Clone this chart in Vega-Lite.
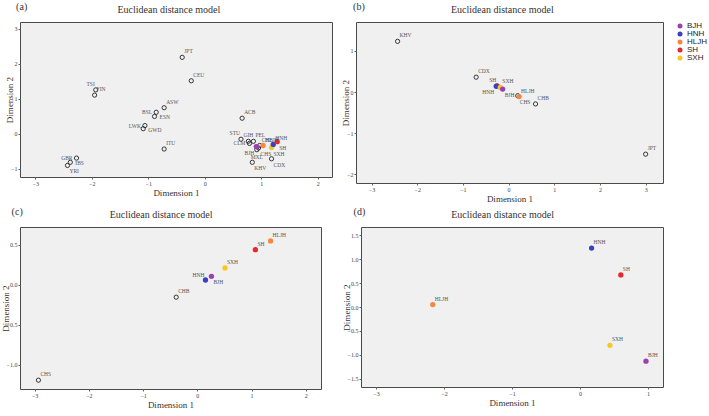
{
  "$schema": "https://vega.github.io/schema/vega-lite/v6.json",
  "padding": {"left": 0, "top": 1, "right": 1, "bottom": 0},
  "background": "white",
  "datasets": {
    "a": [
      {"name": "JPT", "kind": "ref", "x": -0.40, "y": 2.19},
      {"name": "CEU", "kind": "ref", "x": -0.24, "y": 1.52},
      {"name": "TSI", "kind": "ref", "x": -1.93, "y": 1.26},
      {"name": "FIN", "kind": "ref", "x": -1.95, "y": 1.11},
      {"name": "ASW", "kind": "ref", "x": -0.72, "y": 0.75},
      {"name": "BSL", "kind": "ref", "x": -0.86, "y": 0.62},
      {"name": "ESN", "kind": "ref", "x": -0.89, "y": 0.50},
      {"name": "LWK", "kind": "ref", "x": -1.06, "y": 0.24},
      {"name": "GWD", "kind": "ref", "x": -1.09, "y": 0.15},
      {"name": "ITU", "kind": "ref", "x": -0.72, "y": -0.43},
      {"name": "GBR", "kind": "ref", "x": -2.27, "y": -0.69},
      {"name": "IBS", "kind": "ref", "x": -2.38, "y": -0.81},
      {"name": "YRI", "kind": "ref", "x": -2.43, "y": -0.90},
      {"name": "ACB", "kind": "ref", "x": 0.66, "y": 0.45},
      {"name": "KHV", "kind": "ref", "x": 0.84, "y": -0.81},
      {"name": "CDX", "kind": "ref", "x": 1.18, "y": -0.71},
      {"name": "STU", "kind": "ref", "x": 0.64, "y": -0.15},
      {"name": "GIH", "kind": "ref", "x": 0.77, "y": -0.21},
      {"name": "PEL", "kind": "ref", "x": 0.86, "y": -0.21},
      {"name": "CLM", "kind": "ref", "x": 0.79, "y": -0.27},
      {"name": "CHB", "kind": "ref", "x": 0.97, "y": -0.33},
      {"name": "CHS", "kind": "ref", "x": 0.95, "y": -0.40},
      {"name": "MXL", "kind": "ref", "x": 0.92, "y": -0.45},
      {"name": "BJH", "kind": "study", "x": 0.91, "y": -0.36},
      {"name": "HLJH", "kind": "study", "x": 1.03, "y": -0.33},
      {"name": "SXH", "kind": "study", "x": 1.18, "y": -0.39},
      {"name": "HNH", "kind": "study", "x": 1.21, "y": -0.30},
      {"name": "SH", "kind": "study", "x": 1.28, "y": -0.22}
    ],
    "b": [
      {"name": "KHV", "kind": "ref", "x": -2.43, "y": 1.23},
      {"name": "CDX", "kind": "ref", "x": -0.71, "y": 0.36},
      {"name": "JPT", "kind": "ref", "x": 3.00, "y": -1.51},
      {"name": "CHB", "kind": "ref", "x": 0.59, "y": -0.29},
      {"name": "CHS", "kind": "ref", "x": 0.20, "y": -0.09},
      {"name": "SH", "kind": "study", "x": -0.25, "y": 0.15},
      {"name": "HNH", "kind": "study", "x": -0.27, "y": 0.14},
      {"name": "SXH", "kind": "study", "x": -0.18, "y": 0.11},
      {"name": "BJH", "kind": "study", "x": -0.13, "y": 0.07},
      {"name": "HLJH", "kind": "study", "x": 0.23, "y": -0.11}
    ],
    "c": [
      {"name": "CHB", "kind": "ref", "x": -0.39, "y": -0.155},
      {"name": "CHS", "kind": "ref", "x": -2.93, "y": -1.19},
      {"name": "HLJH", "kind": "study", "x": 1.35, "y": 0.546},
      {"name": "SH", "kind": "study", "x": 1.07, "y": 0.437},
      {"name": "SXH", "kind": "study", "x": 0.51, "y": 0.21},
      {"name": "BJH", "kind": "study", "x": 0.26, "y": 0.105},
      {"name": "HNH", "kind": "study", "x": 0.15, "y": 0.059}
    ],
    "d": [
      {"name": "HNH", "kind": "study", "x": 0.17, "y": 1.23},
      {"name": "SH", "kind": "study", "x": 0.60, "y": 0.67},
      {"name": "HLJH", "kind": "study", "x": -2.165, "y": 0.05},
      {"name": "SXH", "kind": "study", "x": 0.44, "y": -0.80},
      {"name": "BJH", "kind": "study", "x": 0.97, "y": -1.13}
    ]
  },
  "resolve": {"scale": {"color": "shared"}, "legend": {"color": "shared"}},
  "columns": 2,
  "align": "none",
  "spacing": {"row": 2, "column": 8},
  "concat": [
    {
      "title": {"text": "(a)", "anchor": "start", "dy": 14, "dx": 11},
      "resolve": {"scale": {"color": "shared"}, "legend": {"color": "shared"}},
      "vconcat": [
        {
          "title": {"text": "Euclidean distance model"},
          "width": 312, "height": 155,
          "data": {"name": "a"},
          "encoding": {
            "x": {"field": "x", "type": "quantitative", "scale": {"domain": [-3.27, 2.25], "nice": false, "zero": false}, "axis": {"values": [-3, -2, -1, 0, 1, 2], "format": "d", "labelOverlap": false, "labelFontSize": 6, "title": "Dimension 1"}},
            "y": {"field": "y", "type": "quantitative", "scale": {"domain": [-1.23, 3.2], "nice": false, "zero": false}, "axis": {"values": [-1, 0, 1, 2, 3], "format": "d", "labelOverlap": false, "labelFontSize": 6, "title": "Dimension 2", "titlePadding": -4}}
          },
          "layer": [
            {"data": {"values": [{"line": "vertical"}]}, "mark": {"type": "rule", "color": "#3a3a3a", "strokeWidth": 1},
             "encoding": {"x": {"datum": 0}, "y": {"datum": -1.23}, "y2": {"datum": 3.2}}},
            {"data": {"values": [{"line": "horizontal"}]}, "mark": {"type": "rule", "color": "#3a3a3a", "strokeWidth": 1},
             "encoding": {"y": {"datum": 0}, "x": {"datum": -3.27}, "x2": {"datum": 2.25}}},
            {"transform": [{"filter": "datum.kind === 'ref'"}], "mark": {"type": "point", "shape": "circle", "filled": false, "stroke": "#222", "strokeWidth": 0.9, "size": 18, "opacity": 1}},
            {"transform": [{"filter": "datum.kind === 'study'"}], "mark": {"type": "circle", "size": 28, "opacity": 1},
             "encoding": {"color": {"field": "name", "type": "nominal", "scale": {"domain": ["BJH", "HNH", "HLJH", "SH", "SXH"], "range": ["#9b3fb5", "#3b3fc4", "#f5883a", "#e8262b", "#f7c823"]}, "legend": {"title": null}}}},
            {"transform": [{"filter": {"field": "name", "oneOf": ["JPT", "CEU", "FIN", "ASW", "ITU", "ACB", "PEL", "HLJH", "HNH", "CHB"]}}], "mark": {"type": "text", "color": "#555", "align": "left", "dx": 2, "dy": -6}, "encoding": {"text": {"field": "name", "type": "nominal"}}},
            {"transform": [{"filter": {"field": "name", "oneOf": ["TSI", "STU"]}}], "mark": {"type": "text", "color": "#555", "align": "right", "dx": -1, "dy": -6}, "encoding": {"text": {"field": "name", "type": "nominal"}}},
            {"transform": [{"filter": {"field": "name", "oneOf": ["GIH"]}}], "mark": {"type": "text", "color": "#555", "align": "center", "dy": -6}, "encoding": {"text": {"field": "name", "type": "nominal"}}},
            {"transform": [{"filter": {"field": "name", "oneOf": ["BSL", "LWK", "GBR", "CLM"]}}], "mark": {"type": "text", "color": "#555", "align": "right", "dx": -4, "dy": 0}, "encoding": {"text": {"field": "name", "type": "nominal"}}},
            {"transform": [{"filter": {"field": "name", "oneOf": ["ESN", "GWD", "IBS"]}}], "mark": {"type": "text", "color": "#555", "align": "left", "dx": 5, "dy": 1}, "encoding": {"text": {"field": "name", "type": "nominal"}}},
            {"transform": [{"filter": {"field": "name", "oneOf": ["YRI", "CHS", "SXH", "KHV", "CDX", "SH"]}}], "mark": {"type": "text", "color": "#555", "align": "left", "dx": 2, "dy": 6}, "encoding": {"text": {"field": "name", "type": "nominal"}}},
            {"transform": [{"filter": {"field": "name", "oneOf": ["BJH"]}}], "mark": {"type": "text", "color": "#555", "align": "right", "dx": -2, "dy": 6}, "encoding": {"text": {"field": "name", "type": "nominal"}}},
            {"transform": [{"filter": {"field": "name", "oneOf": ["MXL"]}}], "mark": {"type": "text", "color": "#555", "align": "center", "dy": 7}, "encoding": {"text": {"field": "name", "type": "nominal"}}}
          ]
        }
      ]
    },
    {
      "title": {"text": "(b)", "anchor": "start", "dy": 14, "dx": 12},
      "resolve": {"scale": {"color": "shared"}, "legend": {"color": "shared"}},
      "vconcat": [
        {
          "title": {"text": "Euclidean distance model"},
          "width": 307, "height": 161,
          "data": {"name": "b"},
          "encoding": {
            "x": {"field": "x", "type": "quantitative", "scale": {"domain": [-3.34, 3.38], "nice": false, "zero": false}, "axis": {"values": [-3, -2, -1, 0, 1, 2, 3], "format": "d", "labelOverlap": false, "labelFontSize": 6, "title": "Dimension 1"}},
            "y": {"field": "y", "type": "quantitative", "scale": {"domain": [-2.21, 1.7], "nice": false, "zero": false}, "axis": {"values": [-2, -1, 0, 1], "format": "d", "labelOverlap": false, "labelFontSize": 6, "title": "Dimension 2", "titlePadding": -4}}
          },
          "layer": [
            {"data": {"values": [{"line": "vertical"}]}, "mark": {"type": "rule", "color": "#3a3a3a", "strokeWidth": 1},
             "encoding": {"x": {"datum": 0}, "y": {"datum": -2.21}, "y2": {"datum": 1.7}}},
            {"data": {"values": [{"line": "horizontal"}]}, "mark": {"type": "rule", "color": "#3a3a3a", "strokeWidth": 1},
             "encoding": {"y": {"datum": 0}, "x": {"datum": -3.34}, "x2": {"datum": 3.38}}},
            {"transform": [{"filter": "datum.kind === 'ref'"}], "mark": {"type": "point", "shape": "circle", "filled": false, "stroke": "#222", "strokeWidth": 0.9, "size": 18, "opacity": 1}},
            {"transform": [{"filter": "datum.kind === 'study'"}], "mark": {"type": "circle", "size": 28, "opacity": 1},
             "encoding": {"color": {"field": "name", "type": "nominal", "scale": {"domain": ["BJH", "HNH", "HLJH", "SH", "SXH"], "range": ["#9b3fb5", "#3b3fc4", "#f5883a", "#e8262b", "#f7c823"]}, "legend": {"title": null}}}},
            {"transform": [{"filter": {"field": "name", "oneOf": ["KHV", "CDX", "JPT", "CHB", "HLJH", "SXH"]}}], "mark": {"type": "text", "color": "#555", "align": "left", "dx": 2, "dy": -6}, "encoding": {"text": {"field": "name", "type": "nominal"}}},
            {"transform": [{"filter": {"field": "name", "oneOf": ["SH"]}}], "mark": {"type": "text", "color": "#555", "align": "right", "dx": -1, "dy": -6}, "encoding": {"text": {"field": "name", "type": "nominal"}}},
            {"transform": [{"filter": {"field": "name", "oneOf": ["HNH"]}}], "mark": {"type": "text", "color": "#555", "align": "right", "dx": -2, "dy": 6}, "encoding": {"text": {"field": "name", "type": "nominal"}}},
            {"transform": [{"filter": {"field": "name", "oneOf": ["BJH", "CHS"]}}], "mark": {"type": "text", "color": "#555", "align": "left", "dx": 2, "dy": 6}, "encoding": {"text": {"field": "name", "type": "nominal"}}}
          ]
        }
      ]
    },
    {
      "title": {"text": "(c)", "anchor": "start", "dy": 14, "dx": 11},
      "resolve": {"scale": {"color": "shared"}, "legend": {"color": "shared"}},
      "vconcat": [
        {
          "title": {"text": "Euclidean distance model"},
          "width": 301, "height": 162,
          "data": {"name": "c"},
          "encoding": {
            "x": {"field": "x", "type": "quantitative", "scale": {"domain": [-3.27, 2.28], "nice": false, "zero": false}, "axis": {"values": [-3, -2, -1, 0, 1, 2], "format": "d", "labelOverlap": false, "labelFontSize": 6, "title": "Dimension 1"}},
            "y": {"field": "y", "type": "quantitative", "scale": {"domain": [-1.3, 0.72], "nice": false, "zero": false}, "axis": {"values": [-1, -0.5, 0, 0.5], "format": ".1f", "labelOverlap": false, "labelFontSize": 6, "title": "Dimension 2", "titlePadding": -4}}
          },
          "layer": [
            {"data": {"values": [{"line": "vertical"}]}, "mark": {"type": "rule", "color": "#3a3a3a", "strokeWidth": 1},
             "encoding": {"x": {"datum": 0}, "y": {"datum": -1.3}, "y2": {"datum": 0.72}}},
            {"data": {"values": [{"line": "horizontal"}]}, "mark": {"type": "rule", "color": "#3a3a3a", "strokeWidth": 1},
             "encoding": {"y": {"datum": 0}, "x": {"datum": -3.27}, "x2": {"datum": 2.28}}},
            {"transform": [{"filter": "datum.kind === 'ref'"}], "mark": {"type": "point", "shape": "circle", "filled": false, "stroke": "#222", "strokeWidth": 0.9, "size": 18, "opacity": 1}},
            {"transform": [{"filter": "datum.kind === 'study'"}], "mark": {"type": "circle", "size": 28, "opacity": 1},
             "encoding": {"color": {"field": "name", "type": "nominal", "scale": {"domain": ["BJH", "HNH", "HLJH", "SH", "SXH"], "range": ["#9b3fb5", "#3b3fc4", "#f5883a", "#e8262b", "#f7c823"]}, "legend": {"title": null}}}},
            {"transform": [{"filter": {"field": "name", "oneOf": ["HLJH", "SH", "SXH", "CHB", "CHS"]}}], "mark": {"type": "text", "color": "#555", "align": "left", "dx": 2, "dy": -6}, "encoding": {"text": {"field": "name", "type": "nominal"}}},
            {"transform": [{"filter": {"field": "name", "oneOf": ["HNH"]}}], "mark": {"type": "text", "color": "#555", "align": "right", "dx": -1, "dy": -5}, "encoding": {"text": {"field": "name", "type": "nominal"}}},
            {"transform": [{"filter": {"field": "name", "oneOf": ["BJH"]}}], "mark": {"type": "text", "color": "#555", "align": "left", "dx": 2, "dy": 6}, "encoding": {"text": {"field": "name", "type": "nominal"}}}
          ]
        }
      ]
    },
    {
      "title": {"text": "(d)", "anchor": "start", "dy": 14, "dx": 12},
      "resolve": {"scale": {"color": "shared"}, "legend": {"color": "shared"}},
      "vconcat": [
        {
          "title": {"text": "Euclidean distance model"},
          "width": 302, "height": 160,
          "data": {"name": "d"},
          "encoding": {
            "x": {"field": "x", "type": "quantitative", "scale": {"domain": [-3.22, 1.22], "nice": false, "zero": false}, "axis": {"values": [-3, -2, -1, 0, 1], "format": "d", "labelOverlap": false, "labelFontSize": 6, "title": "Dimension 1"}},
            "y": {"field": "y", "type": "quantitative", "scale": {"domain": [-1.67, 1.67], "nice": false, "zero": false}, "axis": {"values": [-1.5, -1, -0.5, 0, 0.5, 1, 1.5], "format": ".1f", "labelOverlap": false, "labelFontSize": 6, "title": "Dimension 2", "titlePadding": -4}}
          },
          "layer": [
            {"data": {"values": [{"line": "vertical"}]}, "mark": {"type": "rule", "color": "#3a3a3a", "strokeWidth": 1},
             "encoding": {"x": {"datum": 0}, "y": {"datum": -1.67}, "y2": {"datum": 1.67}}},
            {"data": {"values": [{"line": "horizontal"}]}, "mark": {"type": "rule", "color": "#3a3a3a", "strokeWidth": 1},
             "encoding": {"y": {"datum": 0}, "x": {"datum": -3.22}, "x2": {"datum": 1.22}}},
            {"transform": [{"filter": "datum.kind === 'study'"}], "mark": {"type": "circle", "size": 28, "opacity": 1},
             "encoding": {"color": {"field": "name", "type": "nominal", "scale": {"domain": ["BJH", "HNH", "HLJH", "SH", "SXH"], "range": ["#9b3fb5", "#3b3fc4", "#f5883a", "#e8262b", "#f7c823"]}, "legend": {"title": null}}}},
            {"mark": {"type": "text", "color": "#555", "align": "left", "dx": 2, "dy": -6}, "encoding": {"text": {"field": "name", "type": "nominal"}}}
          ]
        }
      ]
    }
  ],
  "config": {
    "view": {"fill": "#f0f0f0", "stroke": "#4a4a4a", "strokeWidth": 1},
    "title": {"font": "Liberation Serif", "fontSize": 10, "fontWeight": "normal", "color": "#333", "anchor": "middle", "frame": "bounds", "offset": 7},
    "axis": {"grid": false, "domain": false, "ticks": true, "tickSize": 2, "tickColor": "#666", "minExtent": 0, "labelFont": "Liberation Serif", "labelFontSize": 6, "labelColor": "#444", "labelPadding": 1, "labelOverlap": false, "titleFont": "Liberation Serif", "titleFontSize": 9, "titleFontWeight": "normal", "titleColor": "#333", "titlePadding": 2},
    "text": {"font": "Liberation Serif", "fontSize": 5.5, "color": "#555", "baseline": "middle"},
    "legend": {"orient": "none", "legendX": 656, "legendY": 0, "padding": 0, "labelFont": "Liberation Sans", "labelFontSize": 8, "labelColor": "#222", "labelOffset": 3, "symbolSize": 25, "symbolType": "circle", "rowPadding": 0, "offset": 0}
  }
}
